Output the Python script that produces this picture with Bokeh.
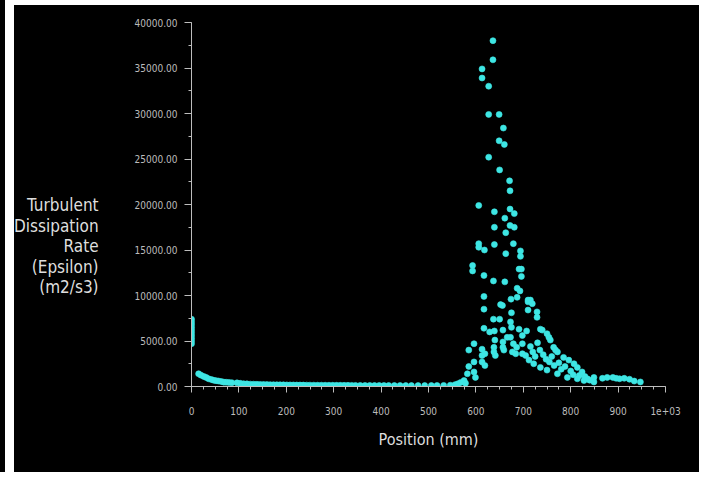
from bokeh.plotting import figure
from bokeh.models import Range1d, FixedTicker, PrintfTickFormatter, Spacer, Div
from bokeh.layouts import row, column
from bokeh.embed import file_html
from bokeh.resources import INLINE

# ---- data ----
x_wall = [0, 0, 0, 0, 0, 0, 0, 0, 0, 0]
eps_wall = [7400, 7100, 6800, 6500, 6200, 5900, 5600, 5300, 5000, 4700]

x_bulk = [15, 20, 26, 31, 36, 42, 47, 52, 57, 63,
          68, 73, 79, 85, 96, 103, 110, 117, 124, 131,
          138, 145, 152, 159, 166, 173, 180, 187, 194, 201,
          208, 215, 222, 229, 236, 243, 250, 258, 266, 274,
          282, 290, 298, 306, 314, 322, 330, 338, 346, 356,
          366, 376, 386, 396, 406, 416, 428, 440, 452, 464,
          478, 492, 506, 518, 532, 546, 556, 562, 568]
eps_bulk = [1400, 1250, 1100, 1000, 850, 760, 680, 640, 600, 540,
            480, 470, 450, 420, 400, 350, 300, 290, 260, 250,
            240, 230, 220, 210, 200, 195, 190, 185, 180, 175,
            170, 165, 160, 158, 155, 150, 148, 145, 142, 140,
            138, 135, 133, 130, 128, 126, 124, 122, 120, 118,
            116, 114, 112, 110, 108, 106, 105, 104, 103, 102,
            101, 100, 105, 110, 120, 140, 200, 300, 450]

x_peak = [636, 636, 613, 613, 627, 627, 649, 658, 649, 660,
          627, 650, 671, 672, 606, 639, 672, 681, 661, 639,
          672, 681, 663, 606, 606, 618, 639, 679, 663, 694,
          694, 593, 593, 617, 691, 696, 696, 637, 661, 687,
          693, 617, 674, 687, 710, 617, 652, 656, 675, 710,
          637, 650, 673, 617, 629, 639, 657, 675, 691, 707,
          673, 666, 698, 596, 640, 638, 657, 657, 679, 686,
          698, 585, 613, 613, 619, 638, 641, 659, 677, 684,
          698, 705, 596, 613, 619, 585, 596, 599, 582, 575,
          578]
eps_peak = [38000, 35900, 34900, 33900, 33000, 29900, 29900, 28400, 27000, 26600,
            25200, 23800, 22600, 21500, 19900, 19200, 19500, 19000, 18500, 17500,
            17700, 17500, 16900, 15700, 15300, 15000, 15600, 15700, 14600, 14900,
            14300, 13300, 12700, 12200, 12900, 12900, 12100, 11600, 11500, 10800,
            10500, 9900, 9600, 9800, 9300, 8500, 9000, 8900, 8100, 8400,
            7400, 7400, 7100, 6400, 6000, 6100, 6200, 6500, 6300, 6100,
            5400, 5400, 5600, 4700, 5100, 4300, 4900, 4300, 4700, 4300,
            4700, 4000, 4100, 3400, 3600, 3800, 3400, 4000, 3800, 3600,
            3600, 3400, 2700, 2700, 2300, 2200, 1600, 1000, 1400, 660,
            360]

x_tail = [710, 715, 719, 729, 729, 736, 740, 750, 754, 757,
          764, 768, 772, 785, 796, 807, 814, 824, 712, 722,
          736, 750, 772, 793, 814, 828, 715, 720, 725, 730,
          735, 742, 748, 755, 760, 765, 775, 780, 788, 800,
          805, 818, 830, 835, 840, 849, 849, 867, 877, 889,
          896, 903, 913, 924, 934, 947]
eps_tail = [9500, 9500, 9100, 8200, 7600, 6300, 6200, 5800, 5400, 5100,
            4300, 4000, 3800, 3200, 2900, 2500, 2100, 1600, 2900, 2500,
            2100, 1800, 1400, 1000, 850, 660, 4400, 3800, 3300, 4800,
            4000, 3500, 3000, 2700, 3300, 2300, 2600, 1900, 2200, 1700,
            1300, 1200, 1100, 850, 700, 1000, 500, 900, 1000, 1000,
            900, 850, 900, 800, 600, 500]

x_ticks = [0, 100, 200, 300, 400, 500, 600, 700, 800, 900, 1000]
x_minor = [v for v in range(0, 1001, 25)]
y_ticks = [0, 5000, 10000, 15000, 20000, 25000, 30000, 35000, 40000]
y_minor = [v for v in range(0, 40001, 2500)]
y_title_lines = ["Turbulent", "Dissipation", "Rate", "(Epsilon)", "(m2/s3)"]

FONT = "'DejaVu Sans Condensed', 'Liberation Sans', sans-serif"
DOT = "#3ee6e4"

p = figure(width=595, height=467, output_backend="svg", toolbar_location=None,
           x_range=Range1d(0, 1000), y_range=Range1d(0, 40000),
           min_border_left=87, min_border_right=34, min_border_top=17,
           min_border_bottom=86, background_fill_color="black",
           border_fill_color="black", outline_line_color=None, margin=0)
p.grid.visible = False

for xs, ys in [(x_wall, eps_wall), (x_bulk, eps_bulk), (x_peak, eps_peak), (x_tail, eps_tail)]:
    p.scatter(xs, ys, size=6, fill_color=DOT, line_color=DOT, line_alpha=0.6)

for ax in (p.xaxis[0], p.yaxis[0]):
    ax.axis_line_color = "#bdbdbd"
    ax.major_tick_line_color = "#bdbdbd"
    ax.minor_tick_line_color = "#bdbdbd"
    ax.major_tick_in = 0
    ax.minor_tick_in = 0
    ax.major_label_text_font = FONT
    ax.major_label_text_font_size = "10px"
    ax.major_label_text_color = "#bcbcbc"

xa = p.xaxis[0]
xa.ticker = FixedTicker(ticks=x_ticks, minor_ticks=x_minor)
xa.major_label_overrides = {1000: "1e+03"}
xa.major_tick_out = 6
xa.minor_tick_out = 3
xa.major_label_standoff = 14
xa.axis_label = "Position (mm)"
xa.axis_label_text_font = FONT
xa.axis_label_text_font_size = "16px"
xa.axis_label_text_font_style = "normal"
xa.axis_label_text_color = "#dedede"
xa.axis_label_standoff = 12

ya = p.yaxis[0]
ya.ticker = FixedTicker(ticks=y_ticks, minor_ticks=y_minor)
ya.formatter = PrintfTickFormatter(format="%.2f")
ya.major_tick_out = 7
ya.minor_tick_out = 3
ya.major_label_standoff = 7

title_html = ("<div style=\"padding:190px 7px 0 0; text-align:right; color:#dedede; "
              "font-family:'DejaVu Sans Condensed','Liberation Sans',sans-serif; "
              "font-size:17px; line-height:20.5px;\">"
              + "<br>".join(y_title_lines) + "</div>")
ytitle = Div(text=title_html, width=90, height=467, margin=0,
             styles={"background-color": "black"})

strip = Spacer(width=5, height=472, margin=0, styles={"background-color": "black"})
gap = Spacer(width=9, height=472, margin=0)
panel = row(ytitle, p, spacing=0, styles={"background-color": "black"})
layout = row(strip, gap, column(Spacer(width=685, height=5, margin=0), panel, spacing=0),
             spacing=0)
open("out.html", "w").write(file_html(layout, INLINE))
